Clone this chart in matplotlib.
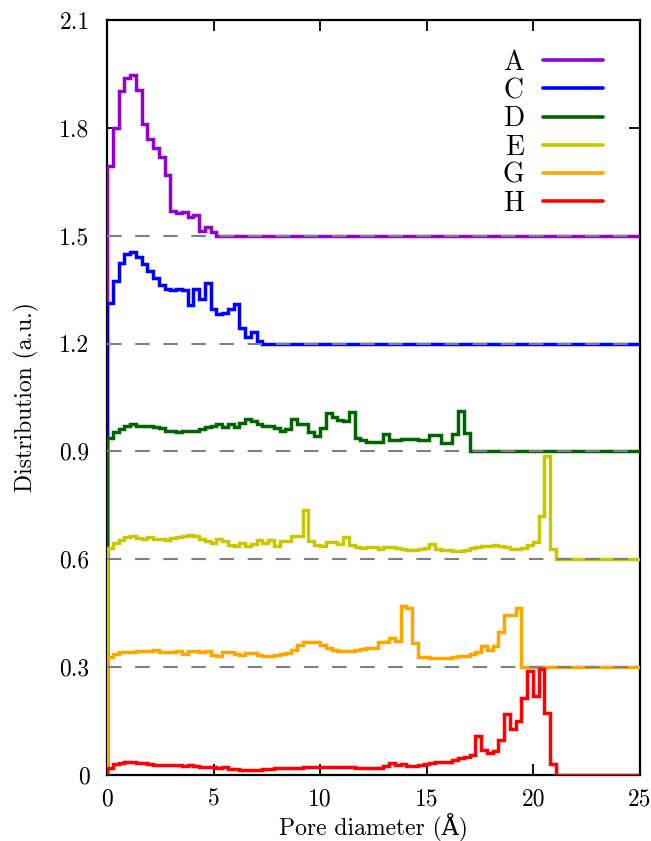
import numpy as np
import matplotlib
matplotlib.use("Agg")
import matplotlib.pyplot as plt

plt.rcParams['font.family'] = ['cmr10', 'DejaVu Serif']
plt.rcParams['mathtext.fontset'] = 'cm'
plt.rcParams['axes.formatter.use_mathtext'] = True

# ---- data -------------------------------------------------------------
bin_width = 0.27  # Angstrom
x_max = 25.0

labels = ["A", "C", "D", "E", "G", "H"]
offsets = [1.5, 1.2, 0.9, 0.6, 0.3, 0.0]
colors = ["#9400D3", "#0000FF", "#006400", "#C8C800", "#FFA500", "#FF0000"]

A = [0.194, 0.300, 0.403, 0.440, 0.448, 0.406, 0.310, 0.269, 0.245, 0.218,
     0.169, 0.069, 0.064, 0.066, 0.051, 0.059, 0.013, 0.025, 0.009]

C = [0.112, 0.174, 0.223, 0.248, 0.256, 0.242, 0.220, 0.202, 0.183, 0.162,
     0.153, 0.149, 0.151, 0.150, 0.106, 0.151, 0.123, 0.169, 0.095, 0.081,
     0.086, 0.095, 0.111, 0.044, 0.019, 0.032, 0.007]

D = [0.038, 0.054, 0.063, 0.072, 0.075, 0.072, 0.070, 0.070, 0.067, 0.066,
     0.056, 0.056, 0.054, 0.058, 0.056, 0.058, 0.061, 0.068, 0.070, 0.077,
     0.068, 0.075, 0.067, 0.080, 0.089, 0.084, 0.077, 0.072, 0.070, 0.066,
     0.056, 0.061, 0.089, 0.075, 0.077, 0.054, 0.044, 0.066, 0.106, 0.095,
     0.088, 0.085, 0.110, 0.038, 0.031, 0.027, 0.027, 0.027, 0.049, 0.033,
     0.033, 0.035, 0.034, 0.034, 0.032, 0.033, 0.045, 0.045, 0.024, 0.024,
     0.049, 0.112, 0.052]

E = [0.031, 0.045, 0.055, 0.061, 0.064, 0.059, 0.056, 0.061, 0.057, 0.056,
     0.055, 0.059, 0.062, 0.064, 0.067, 0.064, 0.057, 0.052, 0.045, 0.056,
     0.050, 0.041, 0.038, 0.045, 0.038, 0.043, 0.055, 0.045, 0.053, 0.038,
     0.050, 0.050, 0.064, 0.064, 0.138, 0.050, 0.041, 0.038, 0.047, 0.047,
     0.043, 0.062, 0.041, 0.034, 0.031, 0.034, 0.034, 0.029, 0.034, 0.034,
     0.030, 0.029, 0.027, 0.027, 0.029, 0.031, 0.043, 0.029, 0.027, 0.025,
     0.022, 0.022, 0.025, 0.031, 0.034, 0.036, 0.038, 0.040, 0.038, 0.034,
     0.029, 0.029, 0.031, 0.040, 0.047, 0.121, 0.287, 0.029]

G = [0.027, 0.036, 0.041, 0.043, 0.043, 0.045, 0.045, 0.045, 0.047, 0.041,
     0.041, 0.041, 0.045, 0.036, 0.045, 0.045, 0.043, 0.045, 0.034, 0.032,
     0.041, 0.043, 0.036, 0.033, 0.038, 0.039, 0.033, 0.032, 0.032, 0.033,
     0.036, 0.039, 0.048, 0.061, 0.069, 0.069, 0.069, 0.061, 0.052, 0.048,
     0.045, 0.045, 0.045, 0.047, 0.050, 0.052, 0.053, 0.071, 0.071, 0.080,
     0.073, 0.171, 0.164, 0.068, 0.027, 0.027, 0.026, 0.025, 0.025, 0.025,
     0.027, 0.032, 0.032, 0.036, 0.043, 0.059, 0.047, 0.058, 0.099, 0.146,
     0.146, 0.164]

H = [0.019, 0.031, 0.033, 0.035, 0.035, 0.034, 0.032, 0.031, 0.029, 0.028,
     0.027, 0.027, 0.027, 0.025, 0.029, 0.025, 0.023, 0.023, 0.023, 0.020,
     0.023, 0.017, 0.016, 0.014, 0.014, 0.014, 0.014, 0.016, 0.017, 0.019,
     0.019, 0.019, 0.020, 0.020, 0.021, 0.022, 0.023, 0.023, 0.023, 0.023,
     0.023, 0.023, 0.021, 0.020, 0.019, 0.019, 0.019, 0.019, 0.025, 0.034,
     0.028, 0.031, 0.026, 0.026, 0.027, 0.031, 0.034, 0.035, 0.035, 0.035,
     0.042, 0.046, 0.051, 0.056, 0.109, 0.070, 0.060, 0.068, 0.097, 0.169,
     0.127, 0.151, 0.214, 0.288, 0.221, 0.295, 0.172, 0.031]

series = [A, C, D, E, G, H]

x_ticks = [0, 5, 10, 15, 20, 25]
y_ticks = [0, 0.3, 0.6, 0.9, 1.2, 1.5, 1.8, 2.1]
y_ticklabels = ["0", "0.3", "0.6", "0.9", "1.2", "1.5", "1.8", "2.1"]

# ---- figure -----------------------------------------------------------
fig = plt.figure(figsize=(6.51, 8.41), dpi=100)
ax = fig.add_axes([0.1644, 0.0785, 0.8187, 0.8977])

fs_tick = 17
fs_label = 17
fs_leg = 20

n_bins = int(np.ceil(x_max / bin_width)) + 1
edges = np.arange(n_bins) * bin_width

for vals, off, col, lab in zip(series, offsets, colors, labels):
    v = np.zeros(n_bins)
    v[:len(vals)] = vals
    y = v + off
    xs = np.r_[0.0, edges]
    ys = np.r_[0.0, y]
    ax.plot(xs, ys, drawstyle='steps-post', color=col, lw=2.5,
            label=lab, zorder=3, solid_joinstyle='miter')

for off in offsets:
    if off > 0:
        ax.plot([0, x_max], [off, off], color='#808080', lw=1.5,
                dashes=(7, 6.5), zorder=4)

ax.set_xlim(0, x_max)
ax.set_ylim(0, 2.1)
ax.set_xticks(x_ticks)
ax.set_xticklabels([str(t) for t in x_ticks])
ax.set_yticks(y_ticks)
ax.set_yticklabels(y_ticklabels)
ax.tick_params(direction='in', length=8, width=1.3, top=True, right=True,
               labelsize=fs_tick)
ax.tick_params(axis='y', pad=12.5)
ax.tick_params(axis='x', pad=9.5)
for s in ax.spines.values():
    s.set_linewidth(1.6)

ax.set_xlabel("Pore diameter (Å)", fontsize=fs_label, labelpad=2)
ax.set_ylabel("Distribution (a.u.)", fontsize=fs_label, labelpad=15)

leg = ax.legend(loc='upper right', bbox_to_anchor=(0.931, 0.961),
                frameon=False, markerfirst=False, fontsize=fs_leg,
                handlelength=2.16, handletextpad=0.7, labelspacing=0.07,
                borderaxespad=0.0, borderpad=0.0)
for line in leg.get_lines():
    line.set_linewidth(2.6)
    line.set_solid_capstyle('round')

fig.savefig("out.png", dpi=100)
